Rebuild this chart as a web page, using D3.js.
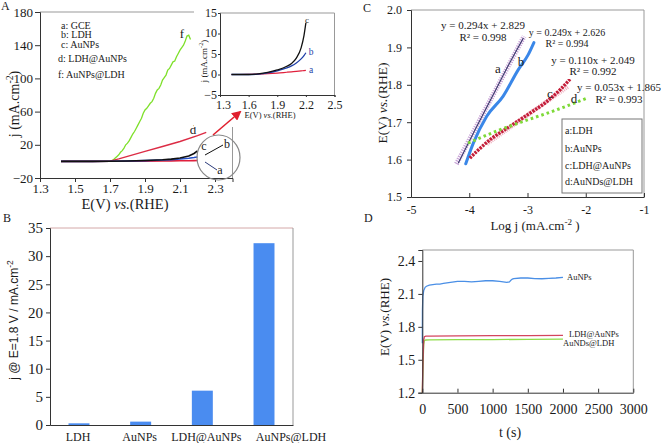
<!DOCTYPE html>
<html><head><meta charset="utf-8">
<script src="https://cdnjs.cloudflare.com/ajax/libs/d3/7.8.5/d3.min.js"></script>
<style>body{margin:0;background:#fff}svg{display:block}</style>
</head><body><svg id="c" width="661" height="443"></svg>
<script>
// ---------------- DATA ----------------
// Panel A (LSV): potential E (V vs RHE) and current density j (mA/cm2)
const potF = [1.43,1.6,1.70,1.71,1.72,1.73,1.74,1.75,1.76,1.77,1.78,1.79,1.80,1.81,1.82,1.83,1.84,1.85,1.86,1.87,1.88,1.89,1.90,1.91,1.92,1.93,1.94,1.95,1.96,1.97,1.98,1.99,2.00,2.01,2.02,2.03,2.04,2.05,2.06,2.07,2.08,2.09,2.10,2.11,2.12,2.13,2.14,2.15,2.16];
const jF   = [0,0,0,1,2,4,6,8,11,13,16,20,22,25,29,33,36,40,44,48,52,58,62,64,67,70,72,76,82,86,88,92,98,101,104,110,112,116,120,121,126,130,134,137,140,145,151,152,147];
const potD = [1.43,1.70,1.75,1.80,1.90,2.00,2.10,2.20,2.25];
const jD   = [0,0.3,3,6,12,18,24,31,35];
const potABC = [1.42,1.5,1.6,1.7,1.8,1.9,2.0,2.05,2.1,2.15,2.18,2.2];
const jA_GCE   = [0,0,0.03,0.1,0.2,0.35,0.55,0.65,0.75,0.87,0.95,1.0];
const jB_LDH   = [0,0,0,0.1,0.4,0.9,1.6,2.1,2.8,3.8,4.6,5.3];
const jC_AuNPs = [0,0,0,0.15,0.5,1.1,2.0,2.7,4.0,6.5,9.5,12.6];
const legendA = ["a: GCE","b: LDH","c: AuNPs","d: LDH@AuNPs","f: AuNPs@LDH"];
const ticksAx = [1.3,1.5,1.7,1.9,2.1,2.3];
const ticksAy = [-20,20,60,100,140,180];
const ticksInsetX = [1.3,1.6,1.9,2.2,2.5];
const ticksInsetY = [-5,0,5,10,15];

// Panel B: j at E = 1.8 V
const catsB = ["LDH","AuNPs","LDH@AuNPs","AuNPs@LDH"];
const valsB = [0.3,0.6,6.1,32.3];
const ticksBy = [0,5,10,15,20,25,30,35];

// Panel C: Tafel plots (log j vs E)
const tafA_log = [-4.19,-3.9,-3.6,-3.3,-3.07];
const tafA_E   = [1.59,1.68,1.77,1.86,1.925];
const tafB_log = [-4.06,-3.93,-3.7,-3.42,-3.16,-2.99,-2.89];
const tafB_E   = [1.589,1.644,1.716,1.769,1.84,1.88,1.913];
const tafC_log = [-3.99,-3.87,-3.645,-3.30,-2.96,-2.67,-2.44,-2.27];
const tafC_E   = [1.604,1.622,1.653,1.689,1.724,1.755,1.787,1.815];
const tafD_log = [-4.02,-3.5,-3.0,-2.5,-1.97];
const tafD_E   = [1.644,1.678,1.706,1.733,1.765];
const slopes     = [0.294,0.249,0.110,0.053];
const intercepts = [2.829,2.626,2.049,1.865];
const r2         = [0.998,0.994,0.992,0.993];
const legendC = ["a:LDH","b:AuNPs","c:LDH@AuNPs","d:AuNDs@LDH"];
const ticksCx = [-5,-4,-3,-2,-1];
const ticksCy = [1.5,1.6,1.7,1.8,1.9,2.0];

// Panel D: chronopotentiometry
const tBlue = [0,2,8,20,40,60,100,150,200,250,300,350,400,450,500,600,700,800,900,1000,1100,1150,1200,1240,1260,1280,1300,1400,1500,1600,1700,1800,1900,2000];
const eBlue = [1.65,1.95,2.08,2.13,2.16,2.17,2.18,2.185,2.19,2.19,2.195,2.20,2.205,2.21,2.215,2.215,2.21,2.215,2.22,2.22,2.215,2.21,2.205,2.21,2.225,2.235,2.24,2.245,2.245,2.24,2.238,2.242,2.245,2.25];
const tRed  = [0,10,20,30,50,100,500,1000,1500,2000];
const eRed  = [1.2,1.5,1.68,1.71,1.715,1.716,1.718,1.72,1.72,1.722];
const tGreen= [0,10,20,30,50,100,500,1000,1500,2000];
const eGreen= [1.2,1.45,1.64,1.675,1.68,1.681,1.683,1.684,1.686,1.688];
const labelsD = ["AuNPs","LDH@AuNPs","AuNDs@LDH"];
const ticksDx = [0,500,1000,1500,2000,2500,3000];
const ticksDy = [1.2,1.5,1.8,2.1,2.4];

// ---------------- DRAWING ----------------
const SERIF = "'Liberation Serif','Times New Roman',Times,serif";
const SANS = "'Liberation Sans',Arial,sans-serif";
const svg = d3.select("#c");
svg.append("rect").attr("width",661).attr("height",443).attr("fill","#fff");
const defs = svg.append("defs");
defs.append("marker").attr("id","arr").attr("viewBox","0 0 10 10").attr("refX",8).attr("refY",5)
  .attr("markerWidth",6).attr("markerHeight",6).attr("orient","auto")
  .append("path").attr("d","M0,0L10,5L0,10z").attr("fill","#e0202e");

function styleAxis(g, fs){
  g.attr("font-family",SERIF);
  g.selectAll("path.domain").attr("stroke","#333").attr("stroke-width",1);
  g.selectAll(".tick line").attr("stroke","#333");
  g.selectAll(".tick text").attr("font-family",SERIF).attr("font-size",fs).attr("fill","#1a1a1a");
}
function rich(parent, x, y, parts, fs, opts={}){
  const t = parent.append("text").attr("font-family",opts.family||SERIF).attr("font-size",fs)
    .attr("fill","#1a1a1a").attr("text-anchor",opts.anchor||"middle");
  if(opts.rotate) t.attr("transform",`translate(${x},${y}) rotate(-90)`);
  else t.attr("x",x).attr("y",y);
  let shifted=false;
  parts.forEach(p=>{
    const s = t.append("tspan").text(p[0]);
    if(p[1]==="i") s.attr("font-style","italic");
    if(p[1]==="sup"){ s.attr("font-size",fs*0.7).attr("dy",-fs*0.4); shifted=true; }
    else if(shifted){ s.attr("dy",fs*0.4); shifted=false; }
  });
  return t;
}
function plain(x,y,txt,fs,anchor="start",fam=SERIF){
  return svg.append("text").attr("x",x).attr("y",y).attr("font-family",fam).attr("font-size",fs)
    .attr("fill","#1a1a1a").attr("text-anchor",anchor).text(txt);
}
const zip = (a,b)=>a.map((v,i)=>[v,b[i]]);

// ===== Panel A =====
const xA = d3.scaleLinear().domain([1.3,2.4]).range([40,232.5]);
const yA = d3.scaleLinear().domain([-20,180]).range([178,12]);
svg.append("line").attr("x1",40).attr("x2",232.5).attr("y1",12).attr("y2",12).attr("stroke","#999");
svg.append("line").attr("x1",232.5).attr("x2",232.5).attr("y1",12).attr("y2",178).attr("stroke","#999");
const lineA = d3.line().x(d=>xA(d[0])).y(d=>yA(d[1]));
svg.append("path").attr("d",lineA(zip(potF,jF))).attr("fill","none").attr("stroke","#7ee02a").attr("stroke-width",1.3);
svg.append("path").attr("d",lineA(zip(potD,jD))).attr("fill","none").attr("stroke","#dc2c45").attr("stroke-width",1.4);
svg.append("path").attr("d",lineA(zip(potABC,jA_GCE))).attr("fill","none").attr("stroke","#e0203c").attr("stroke-width",1.6);
svg.append("path").attr("d",lineA(zip(potABC,jB_LDH))).attr("fill","none").attr("stroke","#2650c8").attr("stroke-width",1.6);
svg.append("path").attr("d",lineA(zip(potABC,jC_AuNPs))).attr("fill","none").attr("stroke","#111").attr("stroke-width",1.6);
const gAy = svg.append("g").attr("transform","translate(40,0)")
  .call(d3.axisLeft(yA).tickValues(ticksAy).tickSize(5).tickPadding(2));
styleAxis(gAy,13);
const gAx = svg.append("g").attr("transform","translate(0,178)")
  .call(d3.axisBottom(xA).tickValues(ticksAx).tickSize(4).tickPadding(2).tickFormat(d3.format(".1f")));
styleAxis(gAx,13);
rich(svg,125,209,[["E(V) "],["vs.","i"],["(RHE)"]],14.5);
rich(svg,19,104,[["j (mA.cm"],["-2","sup"],[")"]],14,{rotate:true});
legendA.forEach((s,i)=>plain(i<3?61:58,[28.5,38,47.5,62,77.5][i],s,10));
plain(182,38,"f",13,"middle");
plain(193,134,"d",13,"middle");
plain(204,150,"c",12,"middle");
plain(227,148,"b",12,"middle");
plain(220,174,"a",12,"middle");
svg.append("ellipse").attr("cx",218.5).attr("cy",157.5).attr("rx",21.5).attr("ry",22.5)
  .attr("fill","none").attr("stroke","#888").attr("stroke-width",1.2);
svg.append("line").attr("x1",205).attr("y1",155).attr("x2",223).attr("y2",145).attr("stroke","#111");
svg.append("line").attr("x1",205).attr("y1",162).attr("x2",217).attr("y2",170).attr("stroke","#2a3a7a");
svg.append("rect").attr("x",194).attr("y",0).attr("width",144).attr("height",127).attr("fill","#fff");
svg.append("line").attr("x1",213).attr("y1",135).attr("x2",240).attr("y2",112)
  .attr("stroke","#e0202e").attr("stroke-width",1.6).attr("marker-end","url(#arr)");

// ===== Inset =====
const xI = d3.scaleLinear().domain([1.3,2.5]).range([220,334.5]);
const yI = d3.scaleLinear().domain([-5,15]).range([95,13]);
svg.append("line").attr("x1",220).attr("x2",334.5).attr("y1",13).attr("y2",13).attr("stroke","#999");
svg.append("line").attr("x1",334.5).attr("x2",334.5).attr("y1",13).attr("y2",95).attr("stroke","#999");
const lineI = d3.line().x(d=>xI(d[0])).y(d=>yI(d[1])).curve(d3.curveMonotoneX);
svg.append("path").attr("d",lineI(zip(potABC,jA_GCE))).attr("fill","none").attr("stroke","#e0203c").attr("stroke-width",1.2);
svg.append("path").attr("d",lineI(zip(potABC,jB_LDH))).attr("fill","none").attr("stroke","#1f3fa8").attr("stroke-width",1.3);
svg.append("path").attr("d",lineI(zip(potABC,jC_AuNPs))).attr("fill","none").attr("stroke","#111").attr("stroke-width",1.3);
const gIy = svg.append("g").attr("transform","translate(220,0)")
  .call(d3.axisLeft(yI).tickValues(ticksInsetY).tickSize(2).tickPadding(1));
styleAxis(gIy,12);
gIy.selectAll(".tick text").attr("dy","0.28em");
const gIx = svg.append("g").attr("transform","translate(0,95)")
  .call(d3.axisBottom(xI).tickValues(ticksInsetX).tickSize(2).tickPadding(3).tickFormat(d3.format(".1f")));
styleAxis(gIx,12);
gIx.selectAll(".tick text").attr("dx",(d,i)=>i===0?3:0);
rich(svg,270,118,[["E(V) "],["vs.","i"],["(RHE)"]],8.5);
rich(svg,207,61,[["j (mA.cm"],["-2","sup"],[")"]],9,{rotate:true});
plain(307,23,"c",9,"middle");
plain(311,55,"b",9.5,"middle").attr("fill","#1f3fa8");
plain(311,73,"a",9.5,"middle").attr("fill","#1f3fa8");

// ===== Panel B =====
const xB = d3.scaleBand().domain(catsB).range([50,293]).paddingInner(0.66).paddingOuter(0.3);
const yB = d3.scaleLinear().domain([0,35]).range([425,228]);
svg.append("line").attr("x1",50).attr("x2",293).attr("y1",228).attr("y2",228).attr("stroke","#d4a8a8");
svg.append("line").attr("x1",293).attr("x2",293).attr("y1",228).attr("y2",425).attr("stroke","#999");
svg.selectAll("rect.barB").data(valsB).enter().append("rect").attr("class","barB")
  .attr("x",(d,i)=>xB(catsB[i])).attr("width",xB.bandwidth())
  .attr("y",d=>yB(d)).attr("height",d=>yB(0)-yB(d)).attr("fill","#4a8cf0");
const gBy = svg.append("g").attr("transform","translate(50,0)")
  .call(d3.axisLeft(yB).tickValues(ticksBy).tickSize(4).tickPadding(3));
styleAxis(gBy,15);
const gBx = svg.append("g").attr("transform","translate(0,425)")
  .call(d3.axisBottom(xB).tickSize(0).tickPadding(7));
styleAxis(gBx,12);
const nudgeB = [-1,-1,4,27];
gBx.selectAll(".tick text").attr("dx",(d,i)=>nudgeB[i]);
rich(svg,18,320,[["j @ E=1.8 V / mA.cm"],["-2","sup"]],12,{rotate:true,family:SANS});

// ===== Panel C =====
const xC = d3.scaleLinear().domain([-5,-1]).range([411,644]);
const yC = d3.scaleLinear().domain([1.5,2.0]).range([197,10]);
svg.append("line").attr("x1",411).attr("x2",644).attr("y1",10).attr("y2",10).attr("stroke","#999");
svg.append("line").attr("x1",644).attr("x2",644).attr("y1",10).attr("y2",197).attr("stroke","#999");
const lineC = d3.line().x(d=>xC(d[0])).y(d=>yC(d[1])).curve(d3.curveMonotoneX);
const trend = (k,x0,x1)=>[[x0,slopes[k]*x0+intercepts[k]],[x1,slopes[k]*x1+intercepts[k]]];
svg.append("path").attr("d",lineC(trend(0,-4.22,-3.06))).attr("fill","none").attr("stroke","#c7a2d6")
  .attr("stroke-width",5).attr("stroke-dasharray","1.2,1.2");
svg.append("path").attr("d",lineC(zip(tafA_log,tafA_E))).attr("fill","none").attr("stroke","#3a3a6c").attr("stroke-width",1.1);
svg.append("path").attr("d",lineC(zip(tafB_log,tafB_E))).attr("fill","none").attr("stroke","#3a87e8").attr("stroke-width",3).attr("stroke-linecap","round");
svg.append("path").attr("d",lineC(trend(2,-3.7,-2.3))).attr("fill","none").attr("stroke","#efb0bf")
  .attr("stroke-width",4.5).attr("stroke-dasharray","1,1");
svg.append("path").attr("d",lineC(zip(tafC_log,tafC_E))).attr("fill","none").attr("stroke","#c41e3a")
  .attr("stroke-width",3.4).attr("stroke-dasharray","2.4,1");
svg.append("path").attr("d",lineC(zip(tafD_log,tafD_E))).attr("fill","none").attr("stroke","#7ed938")
  .attr("stroke-width",3).attr("stroke-dasharray","2.6,3");
const gCy = svg.append("g").attr("transform","translate(411,0)")
  .call(d3.axisLeft(yC).tickValues(ticksCy).tickSize(4).tickPadding(5).tickFormat(d3.format(".1f")));
styleAxis(gCy,12);
const gCx = svg.append("g").attr("transform","translate(0,197)")
  .call(d3.axisBottom(xC).tickValues(ticksCx).tickSizeInner(-4).tickSizeOuter(0).tickPadding(8));
styleAxis(gCx,12);
gCx.selectAll(".tick text").text(d=>"-"+Math.abs(d));
rich(svg,387,103,[["E(V) "],["vs.","i"],["(RHE)"]],13.5,{rotate:true});
rich(svg,535,230,[["Log j (mA.cm"],["-2","sup"],[" )"]],13);
const eqPos = [[483,29,41,11],[567,35.5,46.5,10],[593,64,75,11],[619,91,103,11]];
slopes.forEach((s,i)=>{
  const p = eqPos[i];
  plain(p[0],p[1],`y = ${s.toFixed(3)}x + ${intercepts[i].toFixed(3)}`,p[3],"middle");
  plain(p[0],p[2],`R² = ${r2[i].toFixed(3)}`,p[3],"middle");
});
plain(498,73,"a",13,"middle");
plain(521,66,"b",13,"middle");
plain(550,98,"c",13,"middle");
plain(574,103,"d",13,"middle");
svg.append("rect").attr("x",562).attr("y",119).attr("width",80).attr("height",74)
  .attr("fill","#fff").attr("stroke","#777");
legendC.forEach((s,i)=>plain(565,[134,151.5,168.5,185][i],s,10));

// ===== Panel D =====
const xD = d3.scaleLinear().domain([0,3000]).range([422.3,633.3]);
const yD = d3.scaleLinear().domain([1.2,2.5]).range([392.7,250]);
svg.append("line").attr("x1",422.3).attr("x2",633.3).attr("y1",250).attr("y2",250).attr("stroke","#999");
svg.append("line").attr("x1",633.3).attr("x2",633.3).attr("y1",250).attr("y2",392.7).attr("stroke","#999");
const lineD = d3.line().x(d=>xD(d[0])).y(d=>yD(d[1]));
svg.append("path").attr("d",lineD(zip(tGreen,eGreen))).attr("fill","none").attr("stroke","#8fdc4a").attr("stroke-width",1.3);
svg.append("path").attr("d",lineD(zip(tRed,eRed))).attr("fill","none").attr("stroke","#d4455e").attr("stroke-width",1.3);
svg.append("path").attr("d",lineD(zip(tBlue,eBlue))).attr("fill","none").attr("stroke","#4a8fe6").attr("stroke-width",1.3);
const gDy = svg.append("g").attr("transform","translate(422.3,0)")
  .call(d3.axisLeft(yD).tickValues(ticksDy).tickSize(4).tickPadding(3).tickFormat(d3.format(".1f")));
styleAxis(gDy,14);
const gDx = svg.append("g").attr("transform","translate(0,392.7)")
  .call(d3.axisBottom(xD).tickValues(ticksDx).tickSizeInner(-4).tickSizeOuter(0).tickPadding(11).tickFormat(d3.format("d")));
styleAxis(gDx,14);
rich(svg,389,317,[["E(V) "],["vs.","i"],["(RHE)"]],13,{rotate:true});
plain(510,437,"t (s)",14,"middle");
plain(567,280,labelsD[0],8.5);
plain(569,336.5,labelsD[1],8.5);
plain(563,346,labelsD[2],8.5);

// panel letters
plain(1,10,"A",12);
plain(3,222,"B",12);
plain(363,12,"C",12);
plain(364,222,"D",12);
</script></body></html>
